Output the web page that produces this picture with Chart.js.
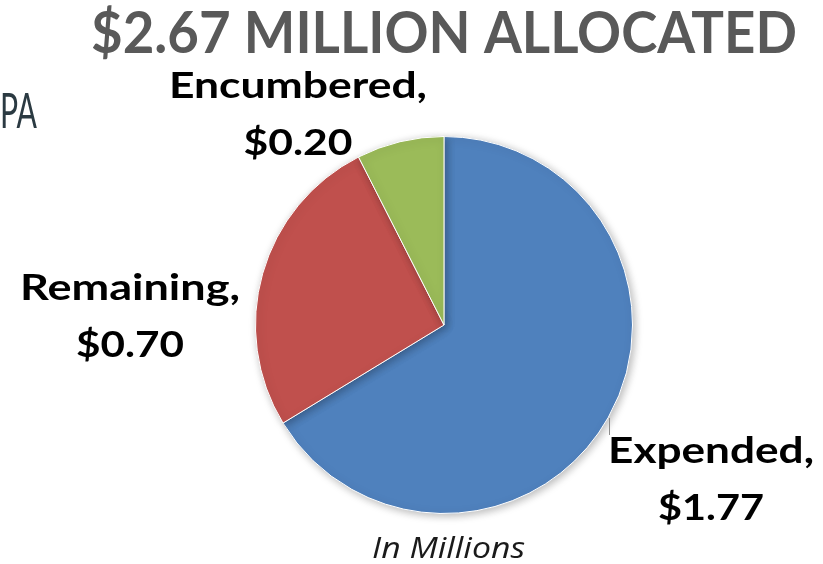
<!DOCTYPE html>
<html>
<head>
<meta charset="utf-8">
<script src="https://cdn.jsdelivr.net/npm/chart.js@4/dist/chart.umd.min.js"></script>
<style>
  html, body { margin: 0; padding: 0; background: #ffffff; }
  canvas { display: block; }
</style>
</head>
<body>
<canvas id="c" width="823" height="564"></canvas>
<script>
const categories = ["Expended", "Remaining", "Encumbered"];
const values = [1.77, 0.70, 0.20];
const valueLabels = ["$1.77", "$0.70", "$0.20"];
const colors = ["#4F81BD", "#C0504D", "#9BBB59"];
const titleText = "$2.67 MILLION ALLOCATED";
const unitText = "In Millions";
const sideText = "PA";

function drawFit(ctx, text, cx, y, font, width, color, align) {
  ctx.save();
  ctx.font = font;
  ctx.fillStyle = color;
  ctx.textBaseline = "alphabetic";
  const w = ctx.measureText(text).width;
  const s = width / w;
  ctx.translate(cx, y);
  ctx.scale(s, 1);
  ctx.textAlign = align || "center";
  ctx.fillText(text, 0, 0);
  ctx.restore();
}

const shadowPlugin = {
  id: "shadow",
  beforeDatasetsDraw(chart) {
    const ctx = chart.ctx;
    ctx.save();
    ctx.shadowColor = "rgba(0,0,0,0.28)";
    ctx.shadowBlur = 8;
    ctx.shadowOffsetX = 2;
    ctx.shadowOffsetY = 2;
  },
  afterDatasetsDraw(chart) {
    chart.ctx.restore();
  }
};

const textPlugin = {
  id: "texts",
  afterDraw(chart) {
    const ctx = chart.ctx;
    const arc = chart.getDatasetMeta(0).data[0];
    const cx = arc.x, cy = arc.y;
    const bold = "bold 37px Lato";
    // Title
    drawFit(ctx, titleText, 444, 53, "bold 57px Lato", 706, "#595959");
    // Side slide text
    drawFit(ctx, sideText, 18.5, 128, "400 48px Lato", 37, "#2B3A42");
    // Labels: [name line, value line] with centre x, first baseline, widths
    const labelSpecs = [
      { i: 0, x: cx + 267, y: cy + 138, w1: 206, w2: 106 },
      { i: 1, x: cx - 314, y: cy - 25, w1: 220, w2: 108 },
      { i: 2, x: cx - 146, y: cy - 227, w1: 258, w2: 109 }
    ];
    labelSpecs.forEach(sp => {
      drawFit(ctx, categories[sp.i] + ",", sp.x, sp.y, bold, sp.w1, "#000000");
      drawFit(ctx, valueLabels[sp.i], sp.x, sp.y + 57, bold, sp.w2, "#000000");
    });
    // leader line for Expended
    ctx.save();
    ctx.strokeStyle = "#8c8c8c";
    ctx.lineWidth = 1;
    ctx.beginPath();
    ctx.moveTo(cx + 165.5, cy + 93);
    ctx.lineTo(cx + 165.5, cy + 110);
    ctx.stroke();
    ctx.restore();
    // unit
    drawFit(ctx, unitText, 448.5, 558, "italic 29px 'Open Sans'", 153, "#1a1a1a");
  }
};

new Chart(document.getElementById("c"), {
  type: "pie",
  data: {
    labels: categories,
    datasets: [{
      data: values,
      backgroundColor: colors,
      borderColor: "#ffffff",
      borderWidth: 1
    }]
  },
  options: {
    responsive: false,
    animation: false,
    layout: { padding: { left: 255, right: 190, top: 136, bottom: 50 } },
    plugins: {
      legend: { display: false },
      tooltip: { enabled: false },
      title: { display: false }
    }
  },
  plugins: [shadowPlugin, textPlugin]
});
</script>
</body>
</html>
